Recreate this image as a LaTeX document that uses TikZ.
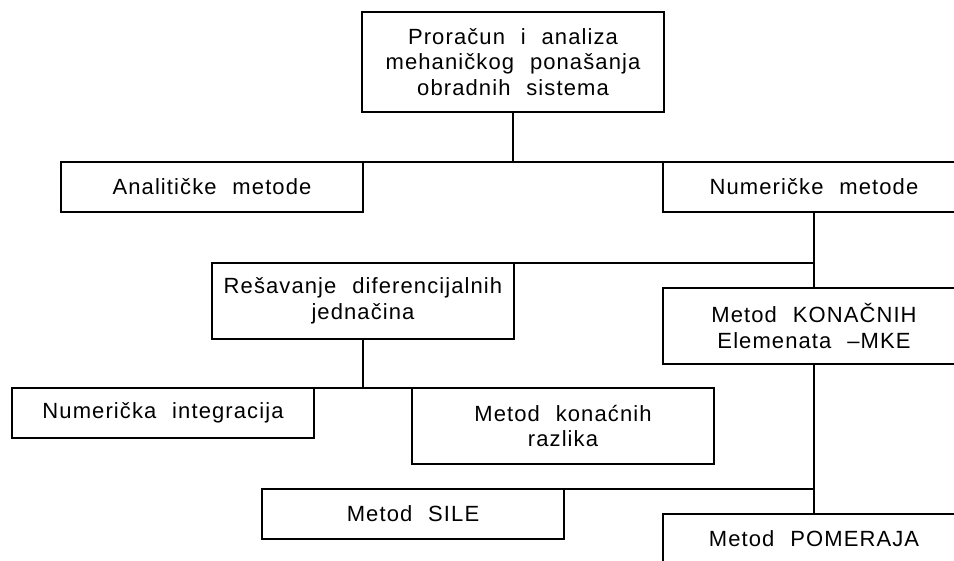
\documentclass[tikz,border=0pt]{standalone}
\usepackage{fontspec}
\setmainfont{Liberation Sans}[WordSpace=2.2,LetterSpace=5]
\usetikzlibrary{positioning}

\begin{document}
\begin{tikzpicture}[x=1pt,y=-1pt,
    box/.style={draw, line width=1.1pt, minimum width=302pt, inner sep=0pt,
      outer sep=0pt, align=center, anchor=north west,
      font=\fontsize{22}{25.5}\selectfont},
    one/.style={minimum height=50pt},
    two/.style={minimum height=76pt},
    three/.style={minimum height=100pt},
    wire/.style={line width=1.1pt}]
  \useasboundingbox (0,0) rectangle (954,561);
  \clip (0,0) rectangle (954,561);

  % boxes
  \node[box,three] (top) at (362,12) {Proračun i analiza\\mehaničkog ponašanja\\obradnih sistema};
  \node[box,one] (ana) at (61,162) {Analitičke metode};
  \node[box,one] (num) at (663,162) {Numeričke metode};
  \node[box,two] (res) at (212,263) {Rešavanje diferencijalnih\\jednačina};
  \node[box,two] (mke) at (663,288) {Metod KONAČNIH\\Elemenata --MKE};
  \node[box,one] (nint) at (12,388) {Numerička integracija};
  \node[box,two] (raz) at (412,388) {Metod konaćnih\\razlika};
  \node[box,one] (sile) at (262,489) {Metod SILE};
  \node[box,one] (pom) at (663,514) {Metod POMERAJA};

  % connectors
  \draw[wire] (top.south) -- (top.south |- ana.north);
  \draw[wire] (ana.north east) -- (num.north west);
  \draw[wire] (num.south) -- (mke.north);
  \draw[wire] (res.north east) -- (res.north east -| num.south);
  \draw[wire] (res.south) -- (res.south |- nint.north);
  \draw[wire] (nint.north east) -- (raz.north west);
  \draw[wire] (mke.south) -- (pom.north);
  \draw[wire] (sile.north east) -- (sile.north east -| mke.south);
\end{tikzpicture}
\end{document}
